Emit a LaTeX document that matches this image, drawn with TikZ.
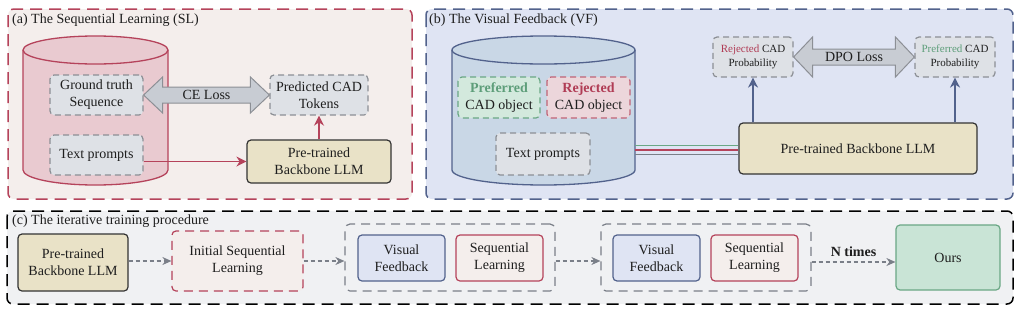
\documentclass[tikz,border=0pt]{standalone}
\usepackage{fontspec}
\setmainfont{Liberation Serif}
\usepackage{tikz}
\usetikzlibrary{positioning,calc,arrows.meta}
\usepackage{xcolor}

\definecolor{txt}{HTML}{1E1E1E}
\definecolor{slred}{HTML}{B5435B}
\definecolor{slfill}{HTML}{F4EEEC}
\definecolor{vfblue}{HTML}{52628C}
\definecolor{vffill}{HTML}{DFE4F3}
\definecolor{itfill}{HTML}{F0F1F3}
\definecolor{cylredfill}{HTML}{E9CAD0}
\definecolor{cylbluefill}{HTML}{C9D7E6}
\definecolor{boxgray}{HTML}{8C8F95}
\definecolor{boxfill}{HTML}{DEE1E6}
\definecolor{llmfill}{HTML}{E9E2C7}
\definecolor{llmline}{HTML}{333333}
\definecolor{prefgreen}{HTML}{5E9E7A}
\definecolor{preffill}{HTML}{D3E9DD}
\definecolor{rejred}{HTML}{B03C55}
\definecolor{rejfill}{HTML}{ECD6DB}
\definecolor{oursfill}{HTML}{C9E4D6}
\definecolor{oursline}{HTML}{6AA785}
\definecolor{lossfill}{HTML}{C8CCD3}
\definecolor{flowgray}{HTML}{7A7F88}

\begin{document}
\begin{tikzpicture}[x=1pt, y=-1pt, >={Stealth[length=9pt,width=8pt]},
    every node/.style={font=\fontsize{14}{17}\selectfont, text=txt, align=center, inner sep=0pt},
    panel/.style={rounded corners=6pt, line width=1.5pt, dash pattern=on 12pt off 7pt},
    title/.style={anchor=west},
    graybox/.style={draw=boxgray, fill=boxfill, rounded corners=4pt, line width=1.2pt, dash pattern=on 6pt off 4pt},
    llmbox/.style={draw=llmline, fill=llmfill, rounded corners=4pt, line width=1.2pt},
    vfbox/.style={draw=vfblue, fill=vffill, rounded corners=4pt, line width=1.2pt, minimum width=87pt, minimum height=46pt},
    slbox/.style={draw=slred, fill=slfill, rounded corners=4pt, line width=1.2pt, minimum width=87pt, minimum height=46pt},
    group/.style={draw=flowgray, rounded corners=5pt, line width=1.2pt, dash pattern=on 9pt off 6pt, minimum width=210pt, minimum height=67pt},
    lossarrow/.style={draw=boxgray, fill=lossfill, line width=1pt},
    flow/.style={->, draw=flowgray, line width=1.3pt, dash pattern=on 4pt off 3pt},
    probtext/.style={font=\fontsize{11}{14}\selectfont}]
    \useasboundingbox (0,0) rectangle (1024,311);

    % (a) sequential learning panel
    \draw[panel, draw=slred, fill=slfill] (8,9) rectangle (412,199);
    \node[title] (titlea) at (12,20) {(a) The Sequential Learning (SL)};
    \draw[draw=slred, fill=cylredfill, line width=1.3pt] (23,50) -- (23,170)
        arc[start angle=180, end angle=360, x radius=72.5pt, y radius=15pt] -- (168,50)
        arc[start angle=0, end angle=180, x radius=72.5pt, y radius=14pt] -- cycle;
    \draw[draw=slred, line width=1.3pt] (23,50) arc[start angle=180, end angle=360, x radius=72.5pt, y radius=14pt];
    \node[graybox, minimum width=93pt, minimum height=40pt] (gt) at (96.5,95) {Ground truth\\Sequence};
    \node[graybox, minimum width=93pt, minimum height=40pt] (tpa) at (96.5,155) {Text prompts};
    \node[graybox, minimum width=98pt, minimum height=40pt] (pred) at (319,95) {Predicted CAD\\Tokens};
    \node[llmbox, minimum width=144pt, minimum height=43pt] (llma) at (319,161.5) {Pre-trained\\Backbone LLM};

    % CE loss double arrow
    \draw[lossarrow] (gt.east) -- ++(19,-18) -- ++(0,10) -- ($(pred.west)+(-19,-8)$) -- ++(0,-10)
        -- (pred.west) -- ++(-19,18) -- ++(0,-10) -- ($(gt.east)+(19,8)$) -- ++(0,10) -- cycle;
    \node (ce) at ($(gt.east)!0.5!(pred.west)$) {CE Loss};

    \draw[->, draw=slred, line width=1.8pt, >={Stealth[length=10pt,width=10pt]}] (tpa.east |- llma.west) -- (llma.west);
    \draw[->, draw=slred, line width=1.8pt, >={Stealth[length=10pt,width=10pt]}] (llma.north) -- (pred.south);

    % (b) visual feedback panel
    \draw[panel, draw=vfblue, fill=vffill] (426,9) rectangle (1013,199);
    \node[title] (titleb) at (429,20) {(b) The Visual Feedback (VF)};
    \draw[draw=vfblue, fill=cylbluefill, line width=1.3pt] (452,50) -- (452,170)
        arc[start angle=180, end angle=360, x radius=91.5pt, y radius=15pt] -- (635,50)
        arc[start angle=0, end angle=180, x radius=91.5pt, y radius=14pt] -- cycle;
    \draw[draw=vfblue, line width=1.3pt] (452,50) arc[start angle=180, end angle=360, x radius=91.5pt, y radius=14pt];
    \coordinate (cylb) at (635,150);
    \node[graybox, draw=oursline, fill=preffill, minimum width=82pt, minimum height=41pt] (prefobj) at (499,97.5)
        {\textbf{\textcolor{prefgreen}{Preferred}}\\CAD object};
    \node[graybox, draw=rejred!80, fill=rejfill, minimum width=83pt, minimum height=41pt] (rejobj) at (588.5,97.5)
        {\textbf{\textcolor{rejred}{Rejected}}\\CAD object};
    \node[graybox, minimum width=94pt, minimum height=42pt] (tpb) at (543,154) {Text prompts};
    \node[llmbox, minimum width=238pt, minimum height=51pt] (llmb) at (858,148.5) {Pre-trained Backbone LLM};
    \node[graybox, probtext, minimum width=80pt, minimum height=40pt] (rejprob) at (753,57)
        {\textcolor{rejred}{Rejected} CAD\\Probability};
    \node[graybox, probtext, minimum width=80pt, minimum height=40pt] (prefprob) at (955,57)
        {\textcolor{prefgreen}{Preferred} CAD\\Probability};

    % DPO loss double arrow
    \draw[lossarrow] (rejprob.east) -- ++(19,-20) -- ++(0,12) -- ($(prefprob.west)+(-19,-8)$) -- ++(0,-12)
        -- (prefprob.west) -- ++(-19,20) -- ++(0,-12) -- ($(rejprob.east)+(19,8)$) -- ++(0,12) -- cycle;
    \node (dpo) at ($(rejprob.east)!0.5!(prefprob.west)$) {DPO Loss};

    \draw[->, draw=vfblue, line width=1.8pt, >={Stealth[length=10pt,width=10pt]}] (llmb.north -| rejprob) -- (rejprob.south);
    \draw[->, draw=vfblue, line width=1.8pt, >={Stealth[length=10pt,width=10pt]}] (llmb.north -| prefprob) -- (prefprob.south);
    \draw[draw=oursline, line width=1.5pt] ([yshift=4.5pt]cylb) -- ([yshift=4.5pt]cylb -| llmb.west);
    \draw[draw=slred, line width=1.5pt] (cylb) -- (cylb -| llmb.west);
    \draw[draw=flowgray, line width=1.5pt] ([yshift=-4.5pt]cylb) -- ([yshift=-4.5pt]cylb -| llmb.west);

    % (c) iterative training panel
    \draw[panel, draw=black, fill=itfill] (7,211) rectangle (1013,304);
    \node[title] (titlec) at (12,221) {(c) The iterative training procedure};
    \node[llmbox, minimum width=110pt, minimum height=57pt] (llmc) at (73,262.5) {Pre-trained\\Backbone LLM};
    \node[slbox, dash pattern=on 9pt off 6pt, minimum width=131pt, minimum height=60pt] (initsl) at (237.5,261) {Initial Sequential\\Learning};
    \node[group] (grp1) at (450,257.5) {};
    \node[vfbox] (vf1) at (401.5,258) {Visual\\Feedback};
    \node[slbox] (sl1) at (499.5,258) {Sequential\\Learning};
    \node[group] (grp2) at (706,257.5) {};
    \node[vfbox] (vf2) at (656.5,258) {Visual\\Feedback};
    \node[slbox] (sl2) at (754.5,258) {Sequential\\Learning};
    \node[draw=oursline, fill=oursfill, rounded corners=4pt, line width=1.2pt, minimum width=104pt, minimum height=65pt] (ours) at (948,257.5) {Ours};

    \draw[flow] (llmc.east |- initsl.west) -- (initsl.west);
    \draw[flow] (initsl.east) -- (initsl.east -| grp1.west);
    \draw[flow] (grp1.east |- initsl.east) -- (initsl.east -| grp2.west);
    \draw[flow] (grp2.east |- 0,262) -- node[above=5pt, font=\fontsize{14}{17}\selectfont\bfseries] (ntimes) {N times} (ours.west |- 0,262);
\end{tikzpicture}
\end{document}
